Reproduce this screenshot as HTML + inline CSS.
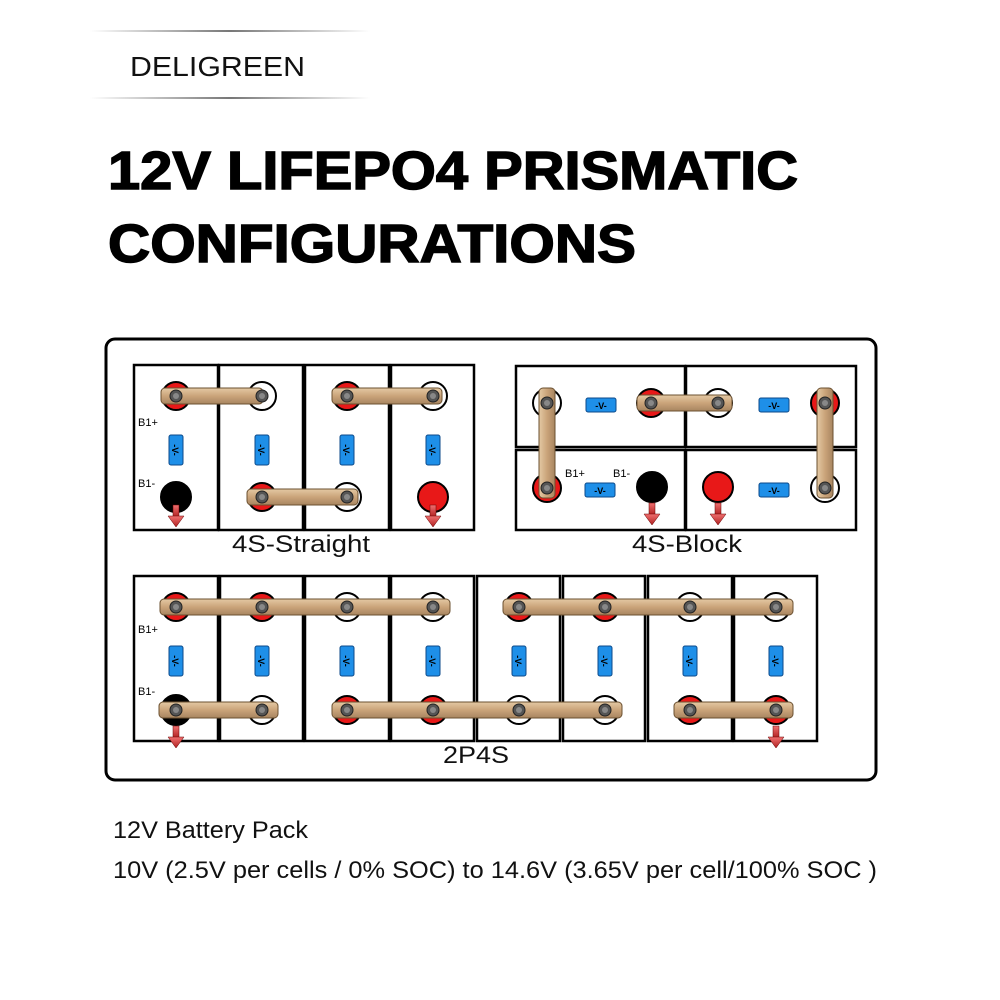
<!DOCTYPE html>
<html><head><meta charset="utf-8"><style>
html,body{margin:0;padding:0;background:#fff;}
svg{display:block;}
</style></head><body>
<svg width="1000" height="1000" viewBox="0 0 1000 1000" xmlns="http://www.w3.org/2000/svg" font-family="Liberation Sans, sans-serif">
<defs>
<linearGradient id="ln" x1="0" x2="1"><stop offset="0" stop-color="#fff"/><stop offset="0.5" stop-color="#777"/><stop offset="1" stop-color="#fff"/></linearGradient>
<linearGradient id="bar" x1="0" y1="0" x2="0" y2="1"><stop offset="0" stop-color="#e4c9a4"/><stop offset="0.5" stop-color="#caa47a"/><stop offset="1" stop-color="#a88560"/></linearGradient>
<linearGradient id="barv" x1="0" y1="0" x2="1" y2="0"><stop offset="0" stop-color="#e4c9a4"/><stop offset="0.5" stop-color="#caa47a"/><stop offset="1" stop-color="#a88560"/></linearGradient>
<linearGradient id="arr" x1="0" y1="0" x2="0" y2="1"><stop offset="0" stop-color="#f07070"/><stop offset="1" stop-color="#b02020"/></linearGradient>
<g id="vv"><rect x="-7" y="-15" width="14" height="30" rx="2" fill="#1e8fe8" stroke="#0c4a8a" stroke-width="1"/><text x="0" y="4" transform="rotate(90)" font-size="9" font-weight="bold" text-anchor="middle" fill="#000">-V-</text></g>
<g id="vh"><rect x="-15" y="-7" width="30" height="14" rx="2" fill="#1e8fe8" stroke="#0c4a8a" stroke-width="1"/><text x="0" y="4" font-size="9" font-weight="bold" text-anchor="middle" fill="#000">-V-</text></g>
<g id="tr"><circle r="14" fill="#e81818" stroke="#000" stroke-width="2"/></g>
<g id="tw"><circle r="14" fill="#fff" stroke="#000" stroke-width="2"/></g>
<g id="tb"><circle r="15" fill="#000" stroke="#000" stroke-width="2"/></g>
<g id="tR"><circle r="15" fill="#e81818" stroke="#000" stroke-width="2"/></g>
<g id="bolt"><circle r="6" fill="#555" stroke="#222" stroke-width="1"/><circle r="3" fill="#888"/></g>
<g id="ar"><rect x="-3" y="0" width="6" height="12" fill="url(#arr)" stroke="#600" stroke-width="0.5"/><polygon points="-8,11 8,11 0,22" fill="url(#arr)" stroke="#600" stroke-width="0.5"/></g>
</defs>

<rect x="90" y="30" width="280" height="2" fill="url(#ln)"/>
<rect x="90" y="97" width="280" height="2" fill="url(#ln)"/>
<text x="130" y="76" font-size="28" fill="#111" textLength="175" lengthAdjust="spacingAndGlyphs">DELIGREEN</text>

<text x="108" y="189" font-size="54" font-weight="900" fill="#000" textLength="690" lengthAdjust="spacingAndGlyphs" stroke="#000" stroke-width="1.5">12V LIFEPO4  PRISMATIC</text>
<text x="108" y="262" font-size="54" font-weight="900" fill="#000" textLength="528" lengthAdjust="spacingAndGlyphs" stroke="#000" stroke-width="1.5">CONFIGURATIONS</text>

<rect x="106" y="339" width="770" height="441" rx="9" fill="#fff" stroke="#000" stroke-width="3"/>

<!-- 4S Straight -->
<g fill="#fff" stroke="#000" stroke-width="2.5">
<rect x="134" y="365" width="84" height="165"/><rect x="219" y="365" width="84" height="165"/><rect x="305" y="365" width="84" height="165"/><rect x="391" y="365" width="83" height="165"/>
</g>
<use href="#tr" x="176" y="396"/><use href="#tw" x="262" y="396"/><use href="#tr" x="347" y="396"/><use href="#tw" x="433" y="396"/>
<use href="#tb" x="176" y="497"/><use href="#tr" x="262" y="497"/><use href="#tw" x="347" y="497"/><use href="#tR" x="433" y="497"/>
<use href="#vv" x="176" y="450"/><use href="#vv" x="262" y="450"/><use href="#vv" x="347" y="450"/><use href="#vv" x="433" y="450"/>
<rect x="161" y="388" width="102" height="16" rx="4" fill="url(#bar)" stroke="#6b5030"/>
<rect x="332" y="388" width="110" height="16" rx="4" fill="url(#bar)" stroke="#6b5030"/>
<rect x="247" y="489" width="111" height="16" rx="4" fill="url(#bar)" stroke="#6b5030"/>
<use href="#bolt" x="176" y="396"/><use href="#bolt" x="262" y="396"/><use href="#bolt" x="347" y="396"/><use href="#bolt" x="433" y="396"/>
<use href="#bolt" x="262" y="497"/><use href="#bolt" x="347" y="497"/>
<use href="#ar" x="176" y="505"/><use href="#ar" x="433" y="505"/>
<text x="138" y="426" font-size="11" fill="#000">B1+</text><text x="138" y="487" font-size="11" fill="#000">B1-</text>
<text x="301" y="552" font-size="24" text-anchor="middle" fill="#111" textLength="138" lengthAdjust="spacingAndGlyphs">4S-Straight</text>

<!-- 4S Block -->
<g fill="#fff" stroke="#000" stroke-width="2.5">
<rect x="516" y="366" width="169" height="81"/><rect x="686" y="366" width="170" height="81"/>
<rect x="516" y="450" width="169" height="80"/><rect x="686" y="450" width="170" height="80"/>
</g>
<use href="#tw" x="547" y="403"/><use href="#vh" x="601" y="405"/><use href="#tr" x="651" y="403"/>
<use href="#tw" x="718" y="403"/><use href="#vh" x="774" y="405"/><use href="#tr" x="825" y="403"/>
<use href="#tr" x="547" y="488"/><use href="#vh" x="600" y="490"/><use href="#tb" x="652" y="487"/>
<use href="#tR" x="718" y="487"/><use href="#vh" x="774" y="490"/><use href="#tw" x="825" y="488"/>
<rect x="539" y="388" width="16" height="110" rx="4" fill="url(#barv)" stroke="#6b5030"/>
<rect x="817" y="388" width="16" height="110" rx="4" fill="url(#barv)" stroke="#6b5030"/>
<rect x="637" y="395" width="95" height="16" rx="4" fill="url(#bar)" stroke="#6b5030"/>
<use href="#bolt" x="547" y="403"/><use href="#bolt" x="547" y="488"/><use href="#bolt" x="651" y="403"/><use href="#bolt" x="718" y="403"/><use href="#bolt" x="825" y="403"/><use href="#bolt" x="825" y="488"/>
<use href="#ar" x="652" y="503"/><use href="#ar" x="718" y="503"/>
<text x="565" y="477" font-size="11" fill="#000">B1+</text><text x="613" y="477" font-size="11" fill="#000">B1-</text>
<text x="687" y="552" font-size="24" text-anchor="middle" fill="#111" textLength="110" lengthAdjust="spacingAndGlyphs">4S-Block</text>

<!-- 2P4S -->
<g fill="#fff" stroke="#000" stroke-width="2.5">
<rect x="134" y="576" width="84" height="165"/><rect x="220" y="576" width="83" height="165"/><rect x="305" y="576" width="84" height="165"/><rect x="391" y="576" width="83" height="165"/>
<rect x="477" y="576" width="83" height="165"/><rect x="563" y="576" width="82" height="165"/><rect x="648" y="576" width="84" height="165"/><rect x="734" y="576" width="83" height="165"/>
</g>
<use href="#tr" x="176" y="607"/><use href="#tr" x="262" y="607"/><use href="#tw" x="347" y="607"/><use href="#tw" x="433" y="607"/>
<use href="#tr" x="519" y="607"/><use href="#tr" x="605" y="607"/><use href="#tw" x="690" y="607"/><use href="#tw" x="776" y="607"/>
<use href="#tb" x="176" y="710"/><use href="#tw" x="262" y="710"/><use href="#tr" x="347" y="710"/><use href="#tr" x="433" y="710"/>
<use href="#tw" x="519" y="710"/><use href="#tw" x="605" y="710"/><use href="#tr" x="690" y="710"/><use href="#tr" x="776" y="710"/>
<use href="#vv" x="176" y="661"/><use href="#vv" x="262" y="661"/><use href="#vv" x="347" y="661"/><use href="#vv" x="433" y="661"/>
<use href="#vv" x="519" y="661"/><use href="#vv" x="605" y="661"/><use href="#vv" x="690" y="661"/><use href="#vv" x="776" y="661"/>
<rect x="160" y="599" width="290" height="16" rx="4" fill="url(#bar)" stroke="#6b5030"/>
<rect x="503" y="599" width="290" height="16" rx="4" fill="url(#bar)" stroke="#6b5030"/>
<rect x="159" y="702" width="119" height="16" rx="4" fill="url(#bar)" stroke="#6b5030"/>
<rect x="332" y="702" width="290" height="16" rx="4" fill="url(#bar)" stroke="#6b5030"/>
<rect x="674" y="702" width="119" height="16" rx="4" fill="url(#bar)" stroke="#6b5030"/>
<g>
<use href="#bolt" x="176" y="607"/><use href="#bolt" x="262" y="607"/><use href="#bolt" x="347" y="607"/><use href="#bolt" x="433" y="607"/>
<use href="#bolt" x="519" y="607"/><use href="#bolt" x="605" y="607"/><use href="#bolt" x="690" y="607"/><use href="#bolt" x="776" y="607"/>
<use href="#bolt" x="176" y="710"/><use href="#bolt" x="262" y="710"/><use href="#bolt" x="347" y="710"/><use href="#bolt" x="433" y="710"/>
<use href="#bolt" x="519" y="710"/><use href="#bolt" x="605" y="710"/><use href="#bolt" x="690" y="710"/><use href="#bolt" x="776" y="710"/>
</g>
<use href="#ar" x="176" y="726"/><use href="#ar" x="776" y="726"/>
<text x="138" y="633" font-size="11" fill="#000">B1+</text><text x="138" y="695" font-size="11" fill="#000">B1-</text>
<text x="476" y="763" font-size="24" text-anchor="middle" fill="#111" textLength="66" lengthAdjust="spacingAndGlyphs">2P4S</text>

<text x="113" y="838" font-size="24" fill="#111" textLength="195" lengthAdjust="spacingAndGlyphs">12V Battery Pack</text>
<text x="113" y="878" font-size="24" fill="#111" textLength="764" lengthAdjust="spacingAndGlyphs">10V (2.5V per cells / 0% SOC) to 14.6V (3.65V per cell/100% SOC )</text>
</svg>
</body></html>
